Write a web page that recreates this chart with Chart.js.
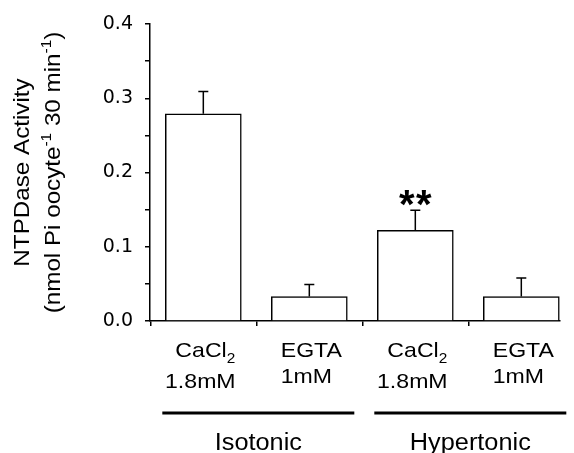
<!DOCTYPE html>
<html>
<head>
<meta charset="utf-8">
<script src="https://cdn.jsdelivr.net/npm/chart.js@4"></script>
<style>
    html, body { margin: 0; padding: 0; background: #fff; }
    #wrap { width: 574px; height: 453px; }
</style>
</head>
<body>
<div id="wrap"><canvas id="ntpChart" width="574" height="453"></canvas></div>
<script>
// values
const reagents = ['CaCl2', 'EGTA', 'CaCl2', 'EGTA'];
const concentrations = ['1.8mM', '1mM', '1.8mM', '1mM'];
const groups = ['Isotonic', 'Hypertonic'];
const groupMembers = [[0, 1], [2, 3]];
const means = [0.279, 0.033, 0.122, 0.033];
const sems = [0.030, 0.016, 0.027, 0.025];
const marks = ['', '', '**', ''];
const yTitle1 = 'NTPDase Activity';
const yTitle2 = [['(nmol Pi oocyte', 0], ['-1', 1], [' 30 min', 0], ['-1', 1], [')', 0]];

const FONT = '"Liberation Sans", Arial, sans-serif';
const STRETCH = 1.1;

// draws a list of [text, kind] pieces, kind 0 normal, 1 superscript, -1 subscript
function drawRich(ctx, pieces, size, align) {
    const small = Math.round(size * 0.65);
    let total = 0;
    const widths = pieces.map(p => {
        ctx.font = (p[1] ? small : size) + 'px ' + FONT;
        const w = ctx.measureText(p[0]).width;
        total += w;
        return w;
    });
    let x = align === 'center' ? -total / 2 : 0;
    ctx.textAlign = 'left';
    ctx.textBaseline = 'alphabetic';
    pieces.forEach((p, i) => {
        ctx.font = (p[1] ? small : size) + 'px ' + FONT;
        const dy = p[1] === 1 ? -size * 0.42 : (p[1] === -1 ? size * 0.28 : 0);
        ctx.fillText(p[0], x, dy);
        x += widths[i];
    });
}

function splitSub(label) {
    const m = label.match(/^(.*?)(\d+)$/);
    return m ? [[m[1], 0], [m[2], -1]] : [[label, 0]];
}

function textAt(ctx, pieces, x, y, size, rot) {
    ctx.save();
    ctx.translate(x, y);
    if (rot) ctx.rotate(rot);
    ctx.scale(STRETCH, 1);
    drawRich(ctx, pieces, size, 'center');
    ctx.restore();
}

const errorBars = {
    id: 'errorBars',
    afterDatasetsDraw(chart) {
        const ctx = chart.ctx;
        const yScale = chart.scales.y;
        const meta = chart.getDatasetMeta(0);
        ctx.save();
        ctx.strokeStyle = '#000';
        ctx.fillStyle = '#000';
        ctx.lineWidth = 1.5;
        meta.data.forEach((bar, i) => {
            const top = yScale.getPixelForValue(means[i] + sems[i]);
            ctx.beginPath();
            ctx.moveTo(bar.x, bar.y);
            ctx.lineTo(bar.x, top);
            ctx.moveTo(bar.x - 5, top);
            ctx.lineTo(bar.x + 5, top);
            ctx.stroke();
            if (marks[i]) {
                ctx.font = 'bold 40px ' + FONT;
                ctx.textAlign = 'center';
                ctx.textBaseline = 'alphabetic';
                const stars = marks[i].split('');
                stars.forEach((s, k) => {
                    ctx.fillText(s, bar.x + (k - (stars.length - 1) / 2) * 17, top + 8);
                });
            }
        });
        ctx.restore();
    }
};

const axisText = {
    id: 'axisText',
    afterDraw(chart) {
        const ctx = chart.ctx;
        const xs = chart.scales.x;
        const area = chart.chartArea;
        ctx.save();
        ctx.fillStyle = '#000';
        ctx.strokeStyle = '#000';

        reagents.forEach((r, i) => {
            const px = xs.getPixelForValue(i);
            textAt(ctx, splitSub(r), px + 2, area.bottom + 36, 21);
            textAt(ctx, [[concentrations[i], 0]], px - 3, area.bottom + (i % 2 ? 62 : 67), 21);
        });

        groups.forEach((g, k) => {
            const m = groupMembers[k];
            const c = (xs.getPixelForValue(m[0]) + xs.getPixelForValue(m[m.length - 1])) / 2 + 2;
            ctx.lineWidth = 3;
            ctx.beginPath();
            ctx.moveTo(c - 96, area.bottom + 92);
            ctx.lineTo(c + 96, area.bottom + 92);
            ctx.stroke();
            textAt(ctx, [[g, 0]], c, area.bottom + 129, 23);
        });

        const cy = (area.top + area.bottom) / 2;
        textAt(ctx, [[yTitle1, 0]], 29, cy, 22, -Math.PI / 2);
        textAt(ctx, yTitle2, 60, cy, 22, -Math.PI / 2);
        ctx.restore();
    }
};

new Chart(document.getElementById('ntpChart'), {
    type: 'bar',
    data: {
        datasets: [{
            data: means.map((v, i) => ({ x: i, y: v })),
            backgroundColor: '#fff',
            borderColor: '#000',
            borderWidth: 1.5,
            barThickness: 76
        }]
    },
    options: {
        responsive: false,
        animation: false,
        events: [],
        layout: { padding: { top: 24, right: 14, left: 0, bottom: 0 } },
        plugins: { legend: { display: false }, tooltip: { enabled: false } },
        scales: {
            x: {
                type: 'linear',
                offset: false,
                min: -0.503,
                max: 3.365,
                afterBuildTicks: axis => { axis.ticks = reagents.map((r, i) => ({ value: i })); },
                afterFit: axis => { axis.height = 132; },
                ticks: { display: false },
                grid: { drawOnChartArea: false, tickLength: 5, color: '#000', lineWidth: 1.5 },
                border: { color: '#000', width: 1.5 }
            },
            y: {
                min: 0,
                max: 0.4,
                afterFit: axis => { axis.width = 150; },
                ticks: {
                    stepSize: 0.05,
                    autoSkip: false,
                    padding: 12,
                    color: '#000',
                    font: { family: 'DejaVu Sans', size: 19 },
                    callback: v => Math.abs(v * 10 - Math.round(v * 10)) < 1e-6 ? v.toFixed(1) : ''
                },
                grid: { drawOnChartArea: false, tickLength: 5, color: '#000', lineWidth: 1.5 },
                border: { color: '#000', width: 1.5 }
            }
        }
    },
    plugins: [errorBars, axisText]
});
</script>
</body>
</html>
